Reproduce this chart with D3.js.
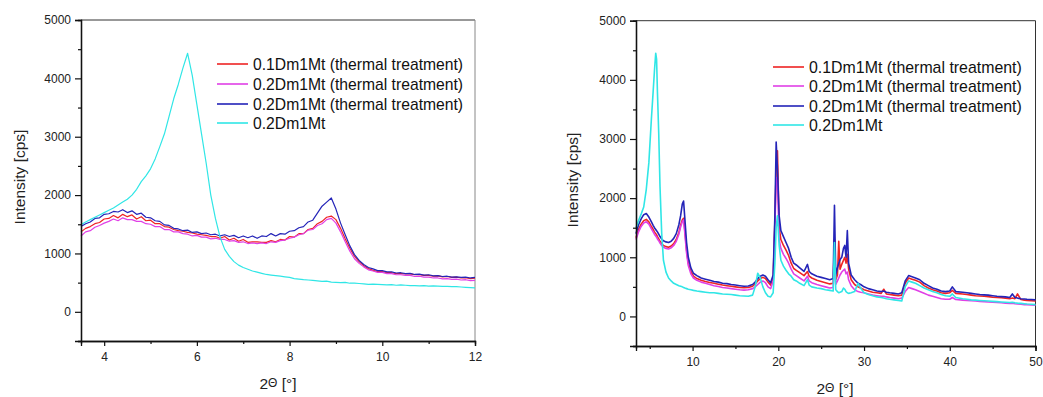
<!DOCTYPE html>
<html>
<head>
<meta charset="utf-8">
<script src="https://cdn.jsdelivr.net/npm/d3@7"></script>
<style>
  body { margin: 0; background: #fff; }
  svg { display: block; font-family: "Liberation Sans", Arial, sans-serif; }
</style>
</head>
<body>
<svg id="chart" width="1043" height="397"></svg>
<script>
// ---- series names / colours (same for both panels)
const seriesNames = [
  '0.1Dm1Mt (thermal treatment)',
  '0.2Dm1Mt (thermal treatment)',
  '0.2Dm1Mt (thermal treatment)',
  '0.2Dm1Mt'
];
const seriesColors = ['#ee2424', '#e040e6', '#2424b8', '#30e6e6'];

// ---- left panel: 2θ 3.5 .. 12
const leftX = [
  3.5, 3.6, 3.7, 3.8, 3.9, 4.0, 4.1, 4.2, 4.3, 4.4,
  4.5, 4.6, 4.7, 4.8, 4.9, 5.0, 5.1, 5.2, 5.3, 5.4,
  5.5, 5.6, 5.7, 5.8, 5.9, 6.0, 6.1, 6.2, 6.3, 6.4,
  6.5, 6.6, 6.7, 6.8, 6.9, 7.0, 7.1, 7.2, 7.3, 7.4,
  7.5, 7.6, 7.7, 7.8, 7.9, 8.0, 8.1, 8.2, 8.3, 8.4,
  8.5, 8.6, 8.7, 8.8, 8.9, 9.0, 9.1, 9.2, 9.3, 9.4,
  9.5, 9.6, 9.7, 9.8, 9.9, 10.0, 10.1, 10.2, 10.3, 10.4,
  10.5, 10.6, 10.7, 10.8, 10.9, 11.0, 11.1, 11.2, 11.3, 11.4,
  11.5, 11.6, 11.7, 11.8, 11.9, 12.0
];
const leftRed = [
  1370, 1430, 1460, 1510, 1530, 1590, 1600, 1650, 1610, 1670,
  1630, 1660, 1590, 1630, 1560, 1570, 1510, 1510, 1460, 1450,
  1410, 1390, 1380, 1360, 1350, 1330, 1320, 1310, 1290, 1290,
  1260, 1290, 1230, 1260, 1210, 1240, 1190, 1200, 1200, 1190,
  1190, 1220, 1200, 1240, 1230, 1290, 1280, 1340, 1340, 1410,
  1430, 1510, 1550, 1620, 1640, 1580, 1430, 1250, 1090, 950,
  860, 790, 740, 710, 690, 690, 670, 670, 655, 655,
  650, 650, 635, 635, 625, 625, 610, 615, 600, 605,
  590, 595, 580, 585, 570, 575
];
const leftMagenta = [
  1300, 1370, 1390, 1450, 1480, 1520, 1550, 1590, 1560, 1610,
  1580, 1580, 1550, 1550, 1510, 1500, 1460, 1460, 1410, 1410,
  1370, 1370, 1340, 1330, 1300, 1310, 1280, 1280, 1250, 1260,
  1240, 1240, 1210, 1220, 1190, 1200, 1170, 1180, 1170, 1180,
  1170, 1200, 1190, 1220, 1230, 1260, 1280, 1320, 1340, 1400,
  1410, 1480, 1510, 1580, 1600, 1520, 1370, 1200, 1040, 910,
  830, 770, 720, 700, 675, 675, 655, 655, 635, 635,
  625, 625, 605, 610, 595, 595, 580, 580, 565, 570,
  555, 560, 545, 550, 535, 540
];
const leftBlue = [
  1460, 1510, 1540, 1600, 1610, 1670, 1680, 1720, 1710, 1750,
  1700, 1730, 1670, 1690, 1620, 1610, 1560, 1550, 1490, 1480,
  1430, 1420, 1390, 1400, 1360, 1370, 1340, 1350, 1320, 1330,
  1300, 1320, 1290, 1310, 1270, 1300, 1270, 1300, 1260, 1300,
  1290, 1340, 1300, 1340, 1330, 1380, 1390, 1440, 1460, 1540,
  1570, 1690, 1810, 1880, 1950, 1760, 1520, 1320, 1130, 980,
  880, 810, 760, 735, 705, 705, 685, 685, 665, 670,
  655, 660, 640, 645, 630, 635, 615, 620, 605, 610,
  595, 600, 590, 595, 580, 590
];
const leftCyan = [
  1490, 1540, 1580, 1620, 1660, 1700, 1740, 1780, 1830, 1880,
  1930, 2000, 2100, 2230, 2330, 2450, 2620, 2830, 3050, 3350,
  3650, 3900, 4180, 4430, 4050, 3550, 3050, 2550, 2000, 1600,
  1280, 1070, 950, 860, 800, 760, 730, 700, 680, 660,
  640, 630, 620, 610, 600, 590, 570, 560, 550, 545,
  540, 530, 520, 525, 510, 505, 500, 505, 490, 490,
  485, 480, 470, 475, 470, 465, 460, 465, 455, 460,
  455, 450, 450, 445, 450, 440, 445, 440, 435, 435,
  430, 430, 425, 420, 415, 410
];

// ---- right panel: 2θ 3.4 .. 50
const rightX = [
  3.4, 3.7, 4.0, 4.3, 4.6, 4.9, 5.2, 5.4, 5.55, 5.7,
  5.8, 5.9, 6.05, 6.2, 6.4, 6.6, 6.9, 7.2, 7.5, 7.8,
  8.1, 8.4, 8.6, 8.8, 8.95, 9.1, 9.3, 9.5, 9.8, 10.1,
  10.5, 11, 11.5, 12, 12.5, 13, 13.5, 14, 14.5, 15,
  15.5, 16, 16.5, 17, 17.3, 17.6, 17.9, 18.2, 18.5, 18.8,
  19.1, 19.4, 19.6, 19.75, 19.9, 20.1, 20.3, 20.6, 20.9, 21.2,
  21.5, 21.8, 22.1, 22.5, 23, 23.4, 23.6, 23.9, 24.5, 25,
  25.5, 26, 26.4, 26.55, 26.7, 26.9, 27.05, 27.2, 27.4, 27.6,
  27.75, 27.9, 28.05, 28.2, 28.5, 28.9, 29.3, 29.6, 30, 30.5,
  31, 31.5, 32, 32.3, 32.6, 33, 33.5, 34, 34.4, 34.8,
  35.2, 35.6, 36, 36.5, 37, 37.5, 38, 38.5, 39, 39.5,
  40, 40.3, 40.7, 41.5, 42, 42.5, 43, 43.5, 44, 44.5,
  45, 45.5, 46, 46.5, 47, 47.3, 47.6, 47.9, 48.3, 48.7,
  49, 49.5, 50
];
const rightRed = [
  1330, 1470, 1560, 1620, 1640, 1600, 1520, 1470, 1430, 1400,
  1380, 1350, 1310, 1270, 1230, 1200, 1180, 1170, 1190, 1230,
  1300, 1420, 1540, 1630, 1660, 1450, 1120, 900, 760, 680,
  640, 610, 590, 575, 560, 545, 530, 520, 510, 500,
  490, 485, 490, 510, 550, 600, 640, 660, 640, 580,
  530, 650, 1600, 2500, 2800, 1500, 1300, 1200, 1120, 1030,
  900, 810, 780, 740, 690, 760, 680, 650, 610, 590,
  570, 550, 560, 1300, 620, 700, 1270, 800, 880, 950,
  1000, 900, 1050, 800, 620, 540, 500, 480, 450, 430,
  410, 400, 390, 460, 380, 370, 360, 350, 360, 560,
  650, 630, 610, 580, 520, 480, 450, 430, 400, 390,
  400, 440, 390, 380, 370, 360, 350, 345, 340, 335,
  325, 320, 315, 310, 300, 310, 300, 380, 285, 275,
  270, 265, 260
];
const rightMagenta = [
  1300, 1430, 1520, 1580, 1600, 1560, 1480, 1430, 1390, 1360,
  1340, 1310, 1280, 1240, 1200, 1170, 1150, 1140, 1160, 1200,
  1270, 1390, 1510, 1600, 1630, 1400, 1070, 860, 720, 650,
  610, 580, 560, 540, 520, 505, 490, 480, 470, 460,
  450, 445, 450, 470, 500, 540, 580, 600, 570, 500,
  470, 600, 1500, 2350, 2300, 1300, 1150, 1050, 980, 900,
  800, 720, 690, 650, 600, 680, 600, 570, 540, 520,
  500, 480, 490, 1100, 540, 600, 650, 700, 750, 780,
  800, 720, 750, 620, 520, 450, 420, 410, 400, 380,
  360, 350, 340, 340, 330, 320, 310, 300, 310, 420,
  490, 470, 450, 420, 390, 360, 340, 320, 300, 290,
  290, 320, 285, 275, 270, 265, 260, 255, 250, 245,
  240, 235, 230, 225, 220, 225, 215, 210, 205, 200,
  200, 195, 190
];
const rightBlue = [
  1400, 1550, 1650, 1720, 1740, 1680, 1600, 1540, 1500, 1470,
  1450, 1430, 1390, 1350, 1310, 1280, 1260, 1250, 1270, 1320,
  1400, 1550, 1700, 1900, 1950, 1650, 1250, 1000, 820, 730,
  690, 650, 630, 610, 590, 580, 560, 555, 540, 530,
  520, 510, 515, 540, 580, 640, 680, 700, 680, 620,
  570, 700, 1700, 2950, 2500, 1700, 1450, 1350, 1250, 1150,
  1000, 900, 870, 820, 760, 880, 760, 720, 680, 660,
  640, 620, 640, 1880, 700, 820, 900, 960, 1000, 1150,
  1200, 1000, 1450, 900, 700, 620, 560, 540, 500, 470,
  450, 430, 420, 430, 410, 400, 390, 380, 400, 600,
  690, 670, 650, 620, 560, 520, 480, 460, 430, 420,
  430, 500, 420, 410, 400, 390, 380, 370, 365, 360,
  350, 340, 335, 330, 320, 380, 320, 310, 300, 295,
  290, 285, 280
];
const rightCyan = [
  1500, 1620, 1730, 1850, 2150, 2600, 3350, 3800, 4150, 4450,
  4350, 3800, 3100, 2200, 1400, 950, 750, 650, 600, 560,
  540, 520, 510, 500, 490, 480, 470, 460, 450, 440,
  430, 420, 410, 400, 400, 390, 380, 375, 370, 360,
  350, 345, 340, 360, 500, 730, 650, 500, 400, 340,
  330, 400, 900, 1500, 1700, 1200, 950, 850, 780, 720,
  680, 620, 600, 560, 520, 620, 530, 500, 480, 470,
  450, 440, 430, 1250, 450, 420, 400, 410, 420, 480,
  460, 420, 400, 390, 400, 420, 560, 480, 400, 370,
  350, 330, 320, 310, 300, 290, 280, 270, 260, 500,
  600, 580, 560, 520, 480, 450, 420, 400, 370, 350,
  340, 380, 320, 300, 290, 280, 275, 270, 265, 260,
  255, 250, 245, 240, 235, 240, 230, 225, 220, 215,
  210, 205, 200
];

// ---- axis ticks
const yMajor = [0, 1000, 2000, 3000, 4000, 5000];
const yMinor = [-500, 500, 1500, 2500, 3500, 4500];
const leftXMajor = [4, 6, 8, 10, 12];
const leftXMinor = [5, 7, 9, 11];
const rightXMajor = [10, 20, 30, 40, 50];
const rightXMinor = [5, 15, 25, 35, 45];

const svg = d3.select('#chart');

function drawPanel(p) {
  const x = d3.scaleLinear().domain(p.xDomain).range([p.left, p.right]);
  const y = d3.scaleLinear().domain([-500, 5000]).range([p.bottom, p.top]);
  const g = svg.append('g');

  // frame (top / right)
  g.append('line').attr('x1', p.left).attr('x2', p.right).attr('y1', p.top).attr('y2', p.top)
    .attr('stroke', '#333').attr('stroke-width', 1);
  g.append('line').attr('x1', p.right).attr('x2', p.right).attr('y1', p.top).attr('y2', p.bottom)
    .attr('stroke', p.rightFrame).attr('stroke-width', 1);

  // series
  const ys = [p.red, p.magenta, p.blue, p.cyan];
  ys.forEach((vals, i) => {
    const line = d3.line()
      .x((d, j) => x(p.xs[j]))
      .y(d => y(d));
    g.append('path')
      .datum(vals)
      .attr('fill', 'none')
      .attr('stroke', seriesColors[i])
      .attr('stroke-width', p.lineWidth)
      .attr('stroke-linejoin', 'round')
      .attr('d', line);
  });

  // y axis
  g.append('g').attr('transform', `translate(${p.left},0)`)
    .call(d3.axisLeft(y).tickValues(yMajor).tickSize(6).tickPadding(4).tickFormat(d3.format('d')));
  g.append('g').attr('transform', `translate(${p.left},0)`)
    .call(d3.axisLeft(y).tickValues(yMinor).tickSize(3).tickFormat(''));

  // x axis
  g.append('g').attr('transform', `translate(0,${p.bottom})`)
    .call(d3.axisBottom(x).tickValues(p.xMajor).tickSize(5).tickPadding(6).tickFormat(d3.format('d')));
  g.append('g').attr('transform', `translate(0,${p.bottom})`)
    .call(d3.axisBottom(x).tickValues(p.xMinor).tickSize(3).tickFormat(''));

  g.selectAll('.domain').attr('stroke', '#111').attr('stroke-width', 1.3);
  g.selectAll('.tick line').attr('stroke', '#111').attr('stroke-width', 1.2);
  g.selectAll('.tick text').attr('font-size', 12).attr('fill', '#222')
    .attr('font-family', '"Liberation Sans", Arial, sans-serif');

  // axis titles
  g.append('text')
    .attr('transform', `translate(${p.yTitleX},${p.yTitleY}) rotate(-90)`)
    .attr('text-anchor', 'middle').attr('dominant-baseline', 'central')
    .attr('font-size', 15.5).attr('fill', '#222')
    .text('Intensity [cps]');
  const xt = g.append('text')
    .attr('x', p.xTitleX).attr('y', p.xTitleY)
    .attr('text-anchor', 'middle').attr('dominant-baseline', 'central')
    .attr('font-size', 15.5).attr('fill', '#222');
  xt.append('tspan').text('2');
  xt.append('tspan').attr('font-size', 12).text('Θ');
  xt.append('tspan').text(' [°]');

  // legend
  seriesNames.forEach((name, i) => {
    const ly = p.legendY[i];
    g.append('line')
      .attr('x1', p.legendX).attr('x2', p.legendX + 31)
      .attr('y1', ly).attr('y2', ly)
      .attr('stroke', seriesColors[i]).attr('stroke-width', 1.6);
    g.append('text')
      .attr('x', p.legendX + 36).attr('y', ly)
      .attr('dominant-baseline', 'central')
      .attr('font-size', p.legendFont).attr('fill', '#111')
      .text(name);
  });
}

drawPanel({
  xs: leftX, red: leftRed, magenta: leftMagenta, blue: leftBlue, cyan: leftCyan,
  xDomain: [3.5, 12], left: 81, right: 475, top: 20, bottom: 341,
  xMajor: leftXMajor, xMinor: leftXMinor, rightFrame: '#888', lineWidth: 1.2,
  yTitleX: 19, yTitleY: 177, xTitleX: 278, xTitleY: 383,
  legendX: 217, legendY: [64, 84, 104, 123], legendFont: 15.7
});

drawPanel({
  xs: rightX, red: rightRed, magenta: rightMagenta, blue: rightBlue, cyan: rightCyan,
  xDomain: [3.4, 50], left: 636, right: 1035.5, top: 20.7, bottom: 346,
  xMajor: rightXMajor, xMinor: rightXMinor, rightFrame: '#333', lineWidth: 1.6,
  yTitleX: 572, yTitleY: 180, xTitleX: 835, xTitleY: 388,
  legendX: 773, legendY: [67, 86, 106, 125], legendFont: 15.9
});
</script>
</body>
</html>
